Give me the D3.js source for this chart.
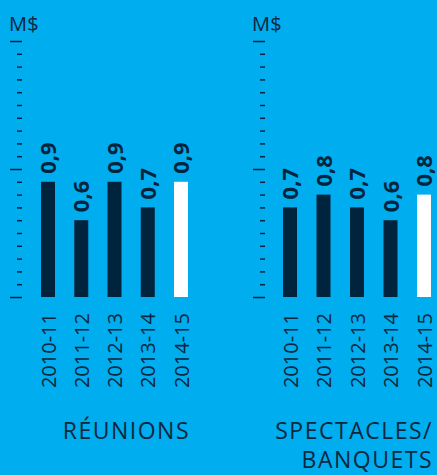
<!DOCTYPE html>
<html>
<head>
<meta charset="utf-8">
<script src="https://cdn.jsdelivr.net/npm/d3@7"></script>
<style>
  html, body { margin: 0; padding: 0; background: #00adee; }
  svg { display: block; }
  text { font-family: "Open Sans", Roboto, sans-serif; fill: #0c2740; }
</style>
</head>
<body>
<svg id="chart" width="437" height="475"></svg>
<script>
const years = ["2010-11", "2011-12", "2012-13", "2013-14", "2014-15"];
const reunions = [0.9, 0.6, 0.9, 0.7, 0.9];
const spectacles = [0.7, 0.8, 0.7, 0.6, 0.8];
const yTicks = d3.range(0, 21).map(d => d / 10);
const unitLabel = "M$";

const svg = d3.select("#chart");
const dark = "#00243d";

const y = d3.scaleLinear().domain([0, 2]).range([297, 41]);

function panel(values, axisX, xRange, title) {
  const g = svg.append("g");
  const x = d3.scalePoint().domain(years).range(xRange);
  const barW = 14;

  // axis: only ticks, major every 1, minor every 0.1
  const axis = g.append("g")
    .attr("transform", `translate(${axisX},0)`)
    .call(d3.axisLeft(y).tickValues(yTicks).tickSize(5).tickFormat(""));
  axis.select(".domain").remove();
  axis.selectAll(".tick line")
    .attr("stroke", dark)
    .attr("stroke-width", 1.5)
    .attr("x2", d => Math.abs(d % 1) < 1e-9 ? -12 : -5);

  g.append("text")
    .attr("x", axisX - 13)
    .attr("y", 31)
    .attr("font-size", 20)
    .attr("letter-spacing", 0.3)
    .text(unitLabel);

  g.selectAll("rect.bar").data(values).enter().append("rect")
    .attr("class", "bar")
    .attr("x", (d, i) => x(years[i]) - barW / 2)
    .attr("y", d => y(d))
    .attr("width", barW)
    .attr("height", d => y(0) - y(d))
    .attr("fill", (d, i) => i === years.length - 1 ? "#ffffff" : dark);

  // values, rotated
  g.selectAll("text.val").data(values).enter().append("text")
    .attr("class", "val")
    .attr("transform", (d, i) => `translate(${x(years[i]) + 8},${y(d) - 8}) rotate(-90)`)
    .attr("font-size", 22)
    .attr("font-weight", 700)
    .style("fill", dark)
    .text(d => d3.format(".1f")(d).replace(".", ","));

  // year labels, rotated
  g.selectAll("text.yr").data(years).enter().append("text")
    .attr("class", "yr")
    .attr("transform", d => `translate(${x(d) + 7.5},313) rotate(-90)`)
    .attr("text-anchor", "end")
    .attr("font-size", 20)
    .text(d => d);

  const t = g.append("text")
    .attr("text-anchor", "end")
    .attr("font-size", 23)
    .attr("letter-spacing", 1.5);
  title.forEach((line, i) => {
    t.append("tspan")
      .attr("x", xRange[1] + 9)
      .attr("y", 439 + i * 29)
      .text(line);
  });
}

panel(reunions, 22, [48, 181], ["RÉUNIONS"]);
panel(spectacles, 265, [290, 424], ["SPECTACLES/", "BANQUETS"]);
</script>
</body>
</html>
